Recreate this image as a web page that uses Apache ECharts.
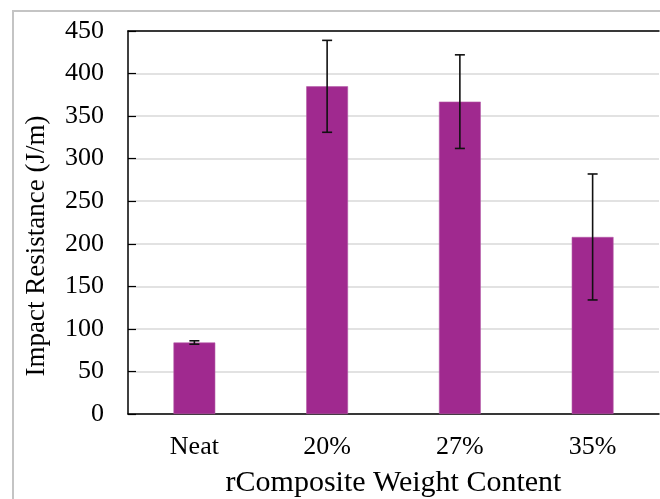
<!DOCTYPE html>
<html>
<head>
<meta charset="utf-8">
<script src="https://cdn.jsdelivr.net/npm/echarts@6/dist/echarts.min.js"></script>
<style>
html,body{margin:0;padding:0;background:#fff;}
#chart{width:660px;height:499px;}
</style>
</head>
<body>
<div id="chart"></div>
<script>
var categories = ['Neat', '20%', '27%', '35%'];
var values = [84, 385, 367, 208];
var errors = [2, 54, 55, 74];
var yTicks = [0, 50, 100, 150, 200, 250, 300, 350, 400, 450];

var FONT = '"Liberation Serif", "Times New Roman", serif';
var chart = echarts.init(document.getElementById('chart'), null, {renderer: 'canvas'});

var errData = values.map(function (v, i) { return [i, v - errors[i], v + errors[i]]; });

chart.setOption({
  animation: false,
  backgroundColor: '#fff',
  graphic: [
    {type: 'rect', shape: {x: 13, y: 11, width: 700, height: 600},
     style: {fill: 'none', stroke: '#c4c4c4', lineWidth: 2}, z: -10},
    {type: 'text', x: 37, y: 246, rotation: Math.PI / 2,
     style: {text: 'Impact Resistance (J/m)', font: '27px ' + FONT, fill: '#000',
             textAlign: 'center', textVerticalAlign: 'middle'}}
  ],
  grid: {left: 128, right: 1, top: 31, bottom: 85, containLabel: false, outerBoundsMode: 'none'},
  xAxis: [{
    type: 'category',
    data: categories,
    axisLine: {lineStyle: {color: '#000', width: 1.5}},
    axisTick: {show: false},
    axisLabel: {fontFamily: FONT, fontSize: 26, color: '#000', margin: 20},
    name: 'rComposite Weight Content',
    nameLocation: 'middle',
    nameGap: 54,
    nameTextStyle: {fontFamily: FONT, fontSize: 30, color: '#000'}
  }, {
    type: 'category',
    data: categories,
    position: 'top',
    axisLine: {lineStyle: {color: '#000', width: 1.5}},
    axisTick: {show: false},
    axisLabel: {show: false}
  }],
  yAxis: {
    type: 'value',
    min: yTicks[0],
    max: yTicks[yTicks.length - 1],
    interval: 50,
    axisLine: {show: true, lineStyle: {color: '#000', width: 1.5}},
    axisTick: {show: true, inside: true, length: 8, lineStyle: {color: '#000', width: 1.2}},
    axisLabel: {fontFamily: FONT, fontSize: 26, color: '#000', margin: 24},
    splitLine: {lineStyle: {color: '#d9d9d9', width: 1.5}}
  },
  series: [{
    type: 'bar',
    data: values,
    barWidth: '31.5%',
    itemStyle: {color: '#A0298F', borderColor: '#B45AA6', borderWidth: 0.6},
    z: 2
  }, {
    type: 'custom',
    data: errData,
    z: 5,
    renderItem: function (params, api) {
      var x = api.value(0);
      var lo = api.coord([x, api.value(1)]);
      var hi = api.coord([x, api.value(2)]);
      var cap = 5;
      var st = {stroke: '#111', lineWidth: 1.6};
      return {type: 'group', children: [
        {type: 'line', shape: {x1: lo[0], y1: lo[1], x2: hi[0], y2: hi[1]}, style: st},
        {type: 'line', shape: {x1: lo[0] - cap, y1: lo[1], x2: lo[0] + cap, y2: lo[1]}, style: st},
        {type: 'line', shape: {x1: hi[0] - cap, y1: hi[1], x2: hi[0] + cap, y2: hi[1]}, style: st}
      ]};
    }
  }]
});
</script>
</body>
</html>
